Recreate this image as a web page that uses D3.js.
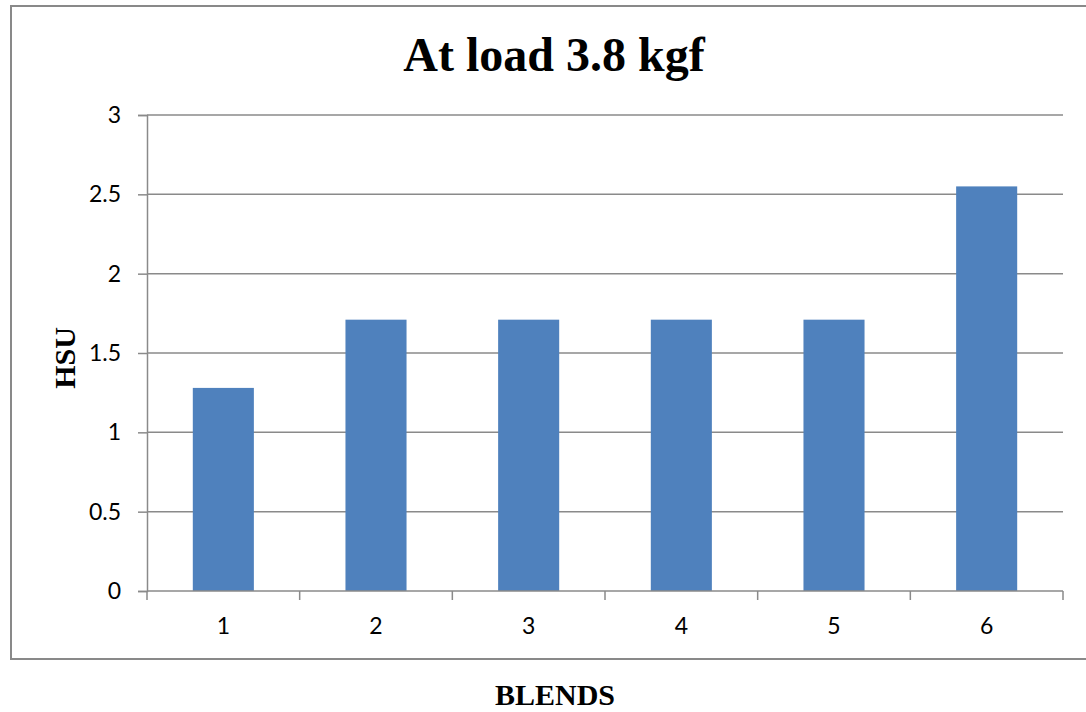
<!DOCTYPE html>
<html>
<head>
<meta charset="utf-8">
<script src="https://cdn.jsdelivr.net/npm/d3@7"></script>
<style>
  html, body { margin: 0; padding: 0; background: #fff; }
  svg { display: block; }
</style>
</head>
<body>
<svg id="chart" width="1086" height="712"></svg>
<script>
const categories = ["1", "2", "3", "4", "5", "6"];
const values = [1.28, 1.71, 1.71, 1.71, 1.71, 2.55];
const yTicks = [0, 0.5, 1, 1.5, 2, 2.5, 3];
const yTickLabels = ["0", "0.5", "1", "1.5", "2", "2.5", "3"];
const title = "At load 3.8 kgf";
const xTitle = "BLENDS";
const yTitle = "HSU";

const svg = d3.select("#chart");
const plot = { left: 147, right: 1063, top: 115, bottom: 591 };
const tickFont = "Lato, 'Open Sans', sans-serif";
const tickSize = 23;

// outer chart border
svg.append("rect")
  .attr("x", 11).attr("y", 6)
  .attr("width", 1090 - 11).attr("height", 659 - 6)
  .attr("fill", "#fff")
  .attr("stroke", "#898989").attr("stroke-width", 2);

const x = d3.scaleBand()
  .domain(categories)
  .range([plot.left, plot.right])
  .paddingInner(0.6)
  .paddingOuter(0.3);

const y = d3.scaleLinear()
  .domain([0, 3])
  .range([plot.bottom, plot.top]);

// gridlines
svg.append("g")
  .selectAll("line")
  .data(yTicks.filter(d => d > 0))
  .join("line")
  .attr("x1", plot.left).attr("x2", plot.right)
  .attr("y1", d => y(d)).attr("y2", d => y(d))
  .attr("stroke", "#8a8a8a").attr("stroke-width", 1.5);

// bars
svg.append("g")
  .selectAll("rect")
  .data(values)
  .join("rect")
  .attr("x", (d, i) => x(categories[i]))
  .attr("width", x.bandwidth())
  .attr("y", d => y(d))
  .attr("height", d => y(0) - y(d))
  .attr("fill", "#4f81bd");

// y axis
const yAxis = d3.axisLeft(y)
  .tickValues(yTicks)
  .tickFormat((d, i) => yTickLabels[i])
  .tickSize(9)
  .tickPadding(17);
const gy = svg.append("g")
  .attr("transform", `translate(${plot.left},0)`)
  .call(yAxis);
gy.select(".domain").attr("stroke", "#8a8a8a").attr("stroke-width", 1.5);
gy.selectAll(".tick line").attr("stroke", "#8a8a8a").attr("stroke-width", 1.5);
gy.selectAll(".tick text")
  .attr("font-family", tickFont)
  .attr("font-size", tickSize)
  .attr("fill", "#000");

// x axis: ticks at category boundaries
const xAxisG = svg.append("g");
xAxisG.append("line")
  .attr("x1", plot.left).attr("x2", plot.right)
  .attr("y1", y(0)).attr("y2", y(0))
  .attr("stroke", "#8a8a8a").attr("stroke-width", 1.5);
const step = x.step();
const boundaries = categories.map((c, i) => x(c) - x.paddingInner() * step / 2).concat([plot.right]);
xAxisG.selectAll("line.tk")
  .data(boundaries)
  .join("line")
  .attr("class", "tk")
  .attr("x1", d => d).attr("x2", d => d)
  .attr("y1", y(0)).attr("y2", y(0) + 9)
  .attr("stroke", "#8a8a8a").attr("stroke-width", 1.5);
xAxisG.selectAll("text")
  .data(categories)
  .join("text")
  .attr("x", d => x(d) + x.bandwidth() / 2)
  .attr("y", 634)
  .attr("text-anchor", "middle")
  .attr("font-family", tickFont)
  .attr("font-size", tickSize)
  .attr("fill", "#000")
  .text(d => d);

// title
svg.append("text")
  .attr("x", 554).attr("y", 71)
  .attr("text-anchor", "middle")
  .attr("font-family", "'Liberation Serif', 'Times New Roman', serif")
  .attr("font-weight", "bold")
  .attr("font-size", 48)
  .text(title);

// x title
svg.append("text")
  .attr("x", 555).attr("y", 705)
  .attr("text-anchor", "middle")
  .attr("font-family", "'Liberation Serif', 'Times New Roman', serif")
  .attr("font-weight", "bold")
  .attr("font-size", 30)
  .text(xTitle);

// y title
svg.append("text")
  .attr("transform", "translate(75,358) rotate(-90)")
  .attr("text-anchor", "middle")
  .attr("font-family", "'Liberation Serif', 'Times New Roman', serif")
  .attr("font-weight", "bold")
  .attr("font-size", 30)
  .text(yTitle);
</script>
</body>
</html>
